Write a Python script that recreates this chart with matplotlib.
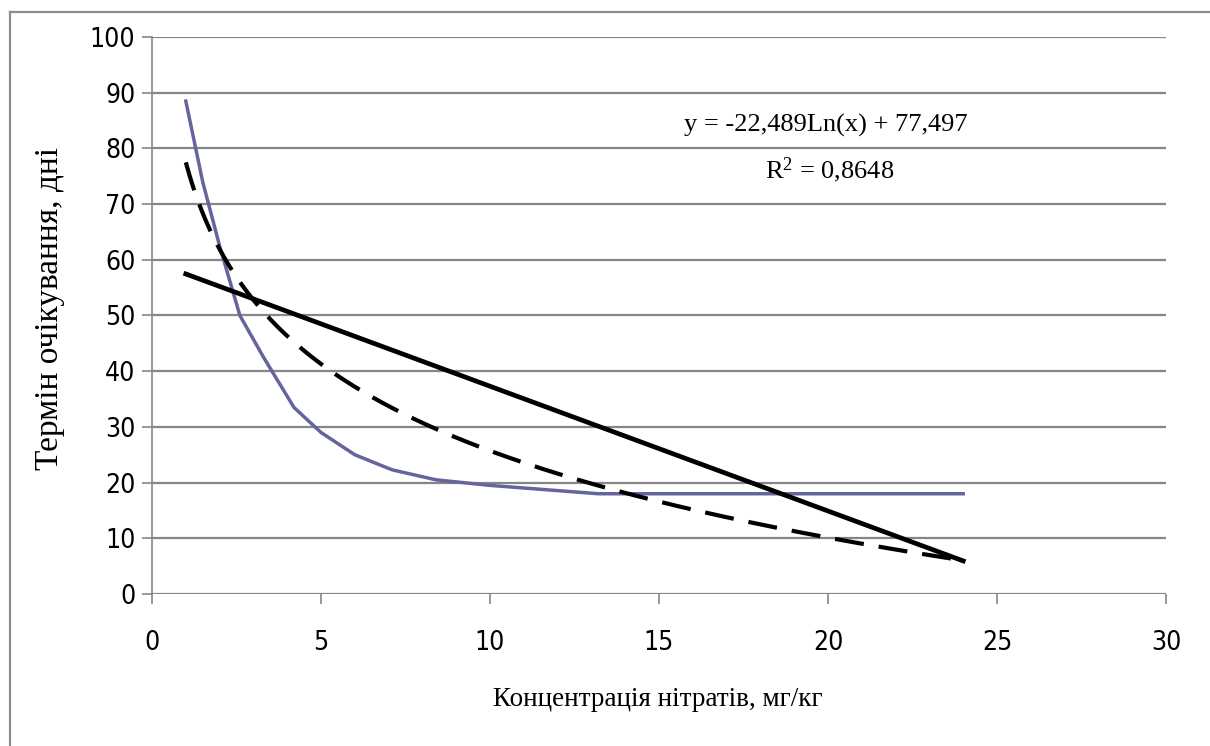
import numpy as np
import matplotlib
matplotlib.use("Agg")
import matplotlib.pyplot as plt
from matplotlib.lines import Line2D

plt.rcParams["mathtext.fontset"] = "custom"
plt.rcParams["mathtext.rm"] = "Liberation Serif"
plt.rcParams["mathtext.it"] = "Liberation Serif:italic"

# Measured waiting period against nitrate concentration
conc = [1, 1.5, 2, 2.6, 3.3, 4.2, 5, 6, 7.1, 8.4, 10, 13.2, 24]
days = [88.5, 74, 62.5, 50, 42.5, 33.5, 29, 25, 22.3, 20.5, 19.5, 18, 18]

# Logarithmic trend (as stated in the label) and linear trend
log_a, log_b = -22.489, 77.497
r_squared = 0.8648
lin_slope, lin_intercept = -2.24, 59.7

x_ticks = [0, 5, 10, 15, 20, 25, 30]
y_ticks = [0, 10, 20, 30, 40, 50, 60, 70, 80, 90, 100]

x_label = "Концентрація нітратів, мг/кг"
y_label = "Термін очікування, дні"

W, H = 1210, 746
fig = plt.figure(figsize=(W / 100, H / 100), dpi=100)
fig.patch.set_facecolor("white")

ax = fig.add_axes([152 / W, 1 - 594 / H, (1166 - 152) / W, (594 - 37) / H])
ax.set_xlim(0, 30)
ax.set_ylim(0, 100)

grid_col = "#868686"
for v in y_ticks:
    ax.axhline(v, color=grid_col, lw=1.6, zorder=1)

for s in ["top", "right", "bottom"]:
    ax.spines[s].set_visible(False)
ax.spines["left"].set_color(grid_col)
ax.spines["left"].set_linewidth(1.2)

tick_kw = dict(family="DejaVu Sans", fontstretch="condensed", fontsize=19)
ax.set_xticks(x_ticks)
ax.set_yticks(y_ticks)
ax.set_xticklabels([str(t) for t in x_ticks], **tick_kw)
ax.set_yticklabels([str(t) for t in y_ticks], **tick_kw)
ax.tick_params(axis="both", direction="out", length=7, width=1.2, color=grid_col)
ax.tick_params(axis="x", pad=19)
ax.tick_params(axis="y", pad=5)

# data series
ax.plot(conc, days, color="#65659D", lw=2.5, zorder=3, solid_joinstyle="round")

# trend lines over the data range
xs = np.linspace(min(conc), max(conc), 400)
ax.plot(xs, log_a * np.log(xs) + log_b, color="black", lw=3.0,
        linestyle=(0, (7, 3.6)), zorder=4)
xl = np.array([min(conc), max(conc)])
ax.plot(xl, lin_slope * xl + lin_intercept, color="black", lw=3.4, zorder=5)

serif = ["Liberation Serif", "DejaVu Serif"]
fig.text(826 / W, 1 - 125 / H, "y = -22,489Ln(x) + 77,497",
         ha="center", va="center", family=serif, fontsize=19)
fig.text(830 / W, 1 - 170 / H,
         r"R$^{\mathrm{2}}$ = " + f"{r_squared}".replace(".", ","),
         ha="center", va="center", family=serif, fontsize=19)

fig.text(658 / W, 1 - 700 / H, x_label, ha="center", va="center", family=serif,
         fontsize=19.5)
fig.text(50 / W, 1 - 308 / H, y_label, ha="center", va="center", rotation=90,
         family=serif, fontsize=24)

# outer chart frame (top and left edges)
frame_col = "#8C8C8C"
fig.add_artist(Line2D([9.5 / W, 9.5 / W], [0, 1 - 12 / H], color=frame_col, lw=1.6,
                      transform=fig.transFigure))
fig.add_artist(Line2D([9.5 / W, 1], [1 - 12 / H, 1 - 12 / H], color=frame_col, lw=1.6,
                      transform=fig.transFigure))

fig.savefig("out.png", dpi=100)
